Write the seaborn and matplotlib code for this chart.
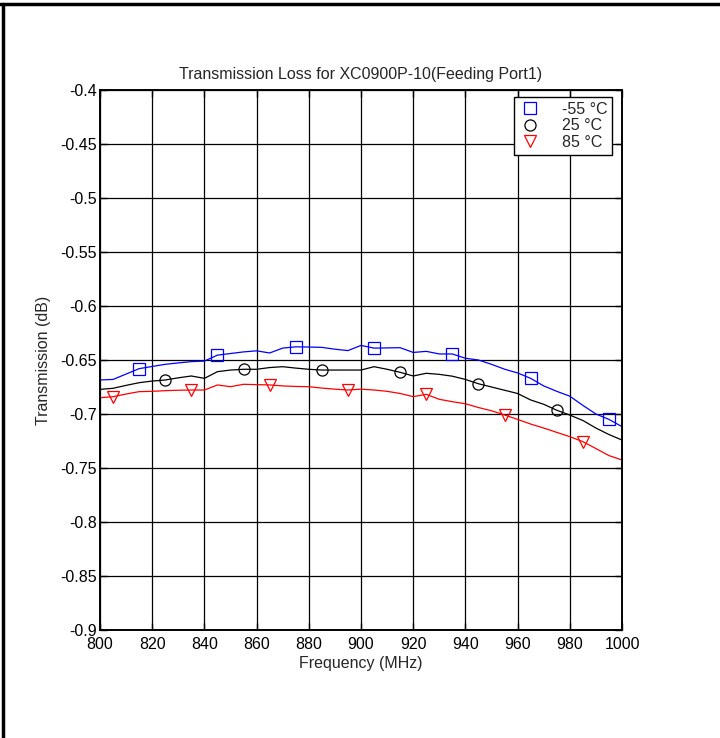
import numpy as np
import pandas as pd
import matplotlib
matplotlib.use("Agg")
import matplotlib.pyplot as plt
from matplotlib.lines import Line2D
import seaborn as sns

freq = list(range(800, 1001, 5))

loss_m55 = [-0.6685, -0.668, -0.663, -0.658, -0.656, -0.654, -0.6527, -0.6515, -0.651, -0.6455,
            -0.644, -0.6425, -0.6415, -0.6435, -0.639, -0.6378, -0.638, -0.6383, -0.640, -0.6413,
            -0.6365, -0.639, -0.6388, -0.6386, -0.643, -0.642, -0.6444, -0.6444, -0.6484, -0.650,
            -0.654, -0.6585, -0.662, -0.667, -0.674, -0.679, -0.6835, -0.692, -0.700, -0.705, -0.7117]

loss_25 = [-0.6772, -0.6762, -0.6735, -0.671, -0.6695, -0.6685, -0.6665, -0.6648, -0.667, -0.6608,
           -0.6593, -0.6586, -0.6586, -0.657, -0.6562, -0.6575, -0.6586, -0.6593, -0.6593, -0.6593,
           -0.6593, -0.6562, -0.6586, -0.6614, -0.6648, -0.6623, -0.6633, -0.665, -0.668, -0.672,
           -0.675, -0.678, -0.681, -0.687, -0.691, -0.6965, -0.701, -0.706, -0.713, -0.719, -0.7241]

loss_85 = [-0.6849, -0.684, -0.6815, -0.6793, -0.679, -0.6784, -0.678, -0.6778, -0.6778, -0.6731,
           -0.6747, -0.6725, -0.6728, -0.6731, -0.674, -0.6745, -0.6747, -0.676, -0.677, -0.6778,
           -0.677, -0.6778, -0.679, -0.681, -0.6839, -0.6818, -0.6864, -0.6886, -0.6905, -0.694,
           -0.697, -0.7009, -0.705, -0.7093, -0.713, -0.717, -0.721, -0.7256, -0.732, -0.7385, -0.7426]

labels = ["-55 °C", "25 °C", "85 °C"]
colors = ["#0000ff", "#000000", "#ff0000"]
markers = ["s", "o", "v"]
mark_offsets = [3, 5, 1]

xticks = list(range(800, 1001, 20))
yticks = [-0.9, -0.85, -0.8, -0.75, -0.7, -0.65, -0.6, -0.55, -0.5, -0.45, -0.4]
ytick_labels = ["-0.9", "-0.85", "-0.8", "-0.75", "-0.7", "-0.65", "-0.6", "-0.55", "-0.5", "-0.45", "-0.4"]

sns.set_theme(style="white")
plt.rcParams["font.family"] = ["Liberation Sans", "DejaVu Sans"]
plt.rcParams["axes.unicode_minus"] = False

FS = 11.5

fig = plt.figure(figsize=(7.2, 7.38), dpi=100)
ax = fig.add_axes([100 / 720, 1 - 630 / 738, 522 / 720, 540 / 738])

series = [loss_m55, loss_25, loss_85]
for vals, lab, col, mk, off in zip(series, labels, colors, markers, mark_offsets):
    df = pd.DataFrame({"f": freq, "v": vals})
    sns.lineplot(data=df, x="f", y="v", ax=ax, color=col, linewidth=0.9, legend=False)
    sns.lineplot(data=df, x="f", y="v", ax=ax, color=col, linestyle="none", marker=mk,
                 markersize=8, markerfacecolor="none", markeredgecolor=col, markeredgewidth=0.9,
                 markevery=(off, 6), label=lab)

ax.set_xlim(800, 1000)
ax.set_ylim(-0.9, -0.4)
ax.set_xticks(xticks)
ax.set_xticklabels([str(t) for t in xticks], fontsize=FS)
ax.set_yticks(yticks)
ax.set_yticklabels(ytick_labels, fontsize=FS)
ax.grid(True, color="black", linewidth=0.9)
ax.tick_params(direction="in", length=5, width=1, top=True, right=True, bottom=True, left=True,
               colors="black")
ax.tick_params(axis="x", pad=5)
ax.tick_params(axis="y", pad=2)
for sp in ax.spines.values():
    sp.set_color("black")
    sp.set_linewidth(1.4)

ax.set_title("Transmission Loss for XC0900P-10(Feeding Port1)", fontsize=FS, pad=8)
ax.set_xlabel("Frequency (MHz)", fontsize=FS, labelpad=3)
ax.set_ylabel("Transmission (dB)", fontsize=FS, labelpad=7)

leg = ax.legend(loc="upper right", bbox_to_anchor=(1 - 10 / 522, 1 - 7 / 540), borderaxespad=0,
                fancybox=False, edgecolor="black", framealpha=1, fontsize=FS,
                handletextpad=1.2, borderpad=0.3, labelspacing=0.1, handlelength=1.5)
leg.get_frame().set_linewidth(1.0)

fig.add_artist(Line2D([0, 1], [1 - 4 / 738, 1 - 4 / 738], color="black", linewidth=2.5,
                      transform=fig.transFigure))
fig.add_artist(Line2D([3 / 720, 3 / 720], [0, 1 - 4 / 738], color="black", linewidth=2.5,
                      transform=fig.transFigure))

fig.savefig("out.png", dpi=100, facecolor="white")
